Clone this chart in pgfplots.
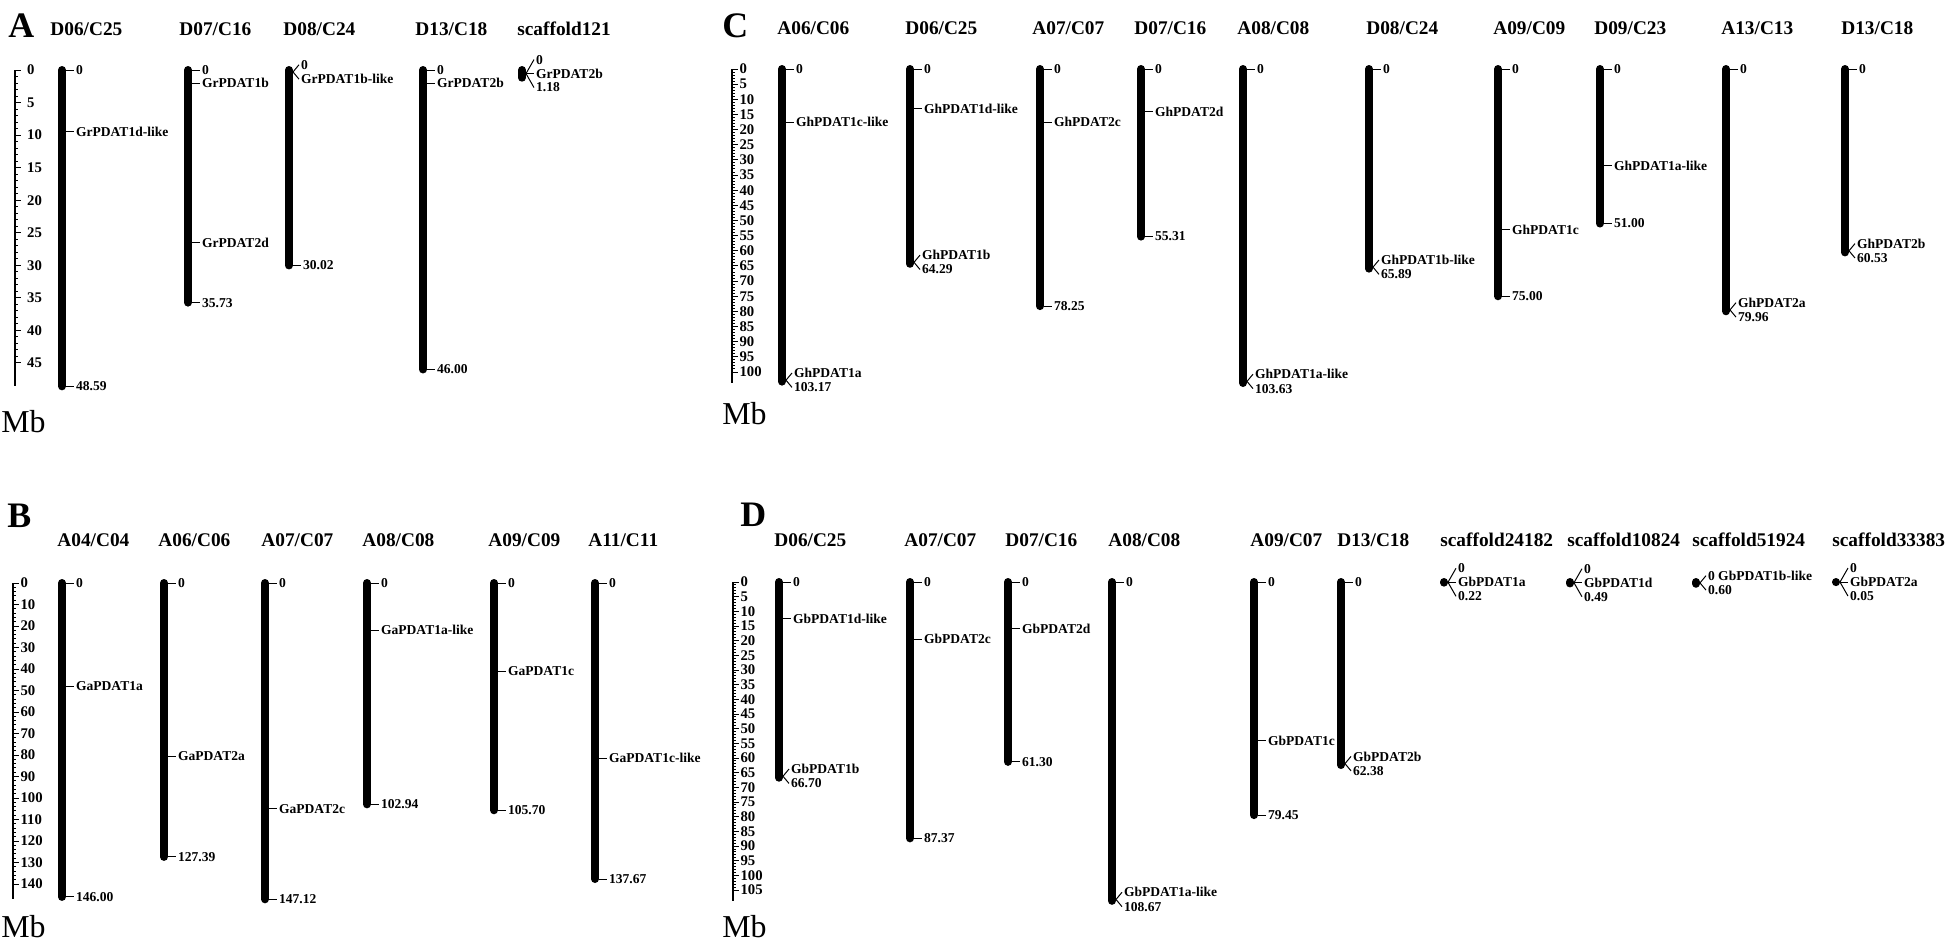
\documentclass[border=0pt]{standalone}
\usepackage{pgfplots}
\pgfplotsset{compat=1.18}
\usepackage{fontspec}
\setmainfont{Liberation Serif}

\newcommand{\lab}{\bfseries\fontsize{6.8}{7}\selectfont}
\newcommand{\ttl}{\bfseries\fontsize{9.7}{11}\selectfont}
\newcommand{\pletter}{\bfseries\fontsize{18}{20}\selectfont}
\newcommand{\mbfont}{\fontsize{16}{18}\selectfont}

% gene tick: x, Mb, text
\newcommand{\gene}[3]{\draw[line width=0.5bp] (axis cs:#1,#2) ++(2bp,0bp) -- ++(4bp,0bp) node[anchor=west,inner sep=0.8bp,font=\lab]{#3};}
% two-way fan: x, Mb, upper text, lower text
\newcommand{\fan}[4]{%
 \draw[line width=0.5bp] (axis cs:#1,#2) ++(2bp,0bp) -- ++(3bp,3.6bp) node[anchor=west,inner sep=0.8bp,font=\lab]{#3};
 \draw[line width=0.5bp] (axis cs:#1,#2) ++(2bp,0bp) -- ++(3bp,-3.6bp) node[anchor=west,inner sep=0.8bp,font=\lab]{#4};}
% three-way fan
\newcommand{\tfan}[5]{%
 \draw[line width=0.5bp] (axis cs:#1,#2) ++(2bp,0bp) -- ++(4bp,7bp) node[anchor=west,inner sep=0.8bp,font=\lab]{#3};
 \draw[line width=0.5bp] (axis cs:#1,#2) ++(2bp,0bp) -- ++(4bp,0bp) node[anchor=west,inner sep=0.8bp,font=\lab]{#4};
 \draw[line width=0.5bp] (axis cs:#1,#2) ++(2bp,0bp) -- ++(4bp,-7bp) node[anchor=west,inner sep=0.8bp,font=\lab]{#5};}

\pgfplotsset{
  ruler/.style={
    axis y line=left, axis x line=none,
    axis line style={-, line width=0.6bp, black},
    y dir=reverse, clip=false,
    tick align=inside, major tick length=2.8bp, minor tick length=1.5bp,
    tick style={line width=0.5bp, black},
    minor y tick num=4,
    /pgf/number format/assume math mode=true,
    yticklabel style={font=\bfseries\fontsize{7.4}{8}\selectfont, anchor=west, xshift=3.2bp, inner sep=0.4bp},
    x=0.5bp, ymin=0, anchor=north west,
  },
  chrom/.style={black, line width=4bp, line cap=round, mark=none},
}

\begin{document}
\begin{tikzpicture}
\begin{scope}[x=0.5bp,y=-0.5bp]
% Panel A texts
\node[anchor=base west,font=\pletter,inner sep=0] at (8,37) {A};
\node[anchor=base west,font=\mbfont,inner sep=0] at (1,433) {Mb};
\node[anchor=base west,font=\ttl,inner sep=0] at (50,35) {D06/C25};
\node[anchor=base west,font=\ttl,inner sep=0] at (179,35) {D07/C16};
\node[anchor=base west,font=\ttl,inner sep=0] at (283,35) {D08/C24};
\node[anchor=base west,font=\ttl,inner sep=0] at (415,35) {D13/C18};
\node[anchor=base west,font=\ttl,inner sep=0] at (517,35) {scaffold121};
% Panel B texts
\node[anchor=base west,font=\pletter,inner sep=0] at (7,528) {B};
\node[anchor=base west,font=\mbfont,inner sep=0] at (1,938) {Mb};
\node[anchor=base west,font=\ttl,inner sep=0] at (57,547) {A04/C04};
\node[anchor=base west,font=\ttl,inner sep=0] at (158,547) {A06/C06};
\node[anchor=base west,font=\ttl,inner sep=0] at (261,547) {A07/C07};
\node[anchor=base west,font=\ttl,inner sep=0] at (362,547) {A08/C08};
\node[anchor=base west,font=\ttl,inner sep=0] at (488,547) {A09/C09};
\node[anchor=base west,font=\ttl,inner sep=0] at (588,547) {A11/C11};
% Panel C texts
\node[anchor=base west,font=\pletter,inner sep=0] at (722,37) {C};
\node[anchor=base west,font=\mbfont,inner sep=0] at (722,425) {Mb};
\node[anchor=base west,font=\ttl,inner sep=0] at (777,34) {A06/C06};
\node[anchor=base west,font=\ttl,inner sep=0] at (905,34) {D06/C25};
\node[anchor=base west,font=\ttl,inner sep=0] at (1032,34) {A07/C07};
\node[anchor=base west,font=\ttl,inner sep=0] at (1134,34) {D07/C16};
\node[anchor=base west,font=\ttl,inner sep=0] at (1237,34) {A08/C08};
\node[anchor=base west,font=\ttl,inner sep=0] at (1366,34) {D08/C24};
\node[anchor=base west,font=\ttl,inner sep=0] at (1493,34) {A09/C09};
\node[anchor=base west,font=\ttl,inner sep=0] at (1594,34) {D09/C23};
\node[anchor=base west,font=\ttl,inner sep=0] at (1721,34) {A13/C13};
\node[anchor=base west,font=\ttl,inner sep=0] at (1841,34) {D13/C18};
% Panel D texts
\node[anchor=base west,font=\pletter,inner sep=0] at (740,527) {D};
\node[anchor=base west,font=\mbfont,inner sep=0] at (722,938) {Mb};
\node[anchor=base west,font=\ttl,inner sep=0] at (774,547) {D06/C25};
\node[anchor=base west,font=\ttl,inner sep=0] at (904,547) {A07/C07};
\node[anchor=base west,font=\ttl,inner sep=0] at (1005,547) {D07/C16};
\node[anchor=base west,font=\ttl,inner sep=0] at (1108,547) {A08/C08};
\node[anchor=base west,font=\ttl,inner sep=0] at (1250,547) {A09/C07};
\node[anchor=base west,font=\ttl,inner sep=0] at (1337,547) {D13/C18};
\node[anchor=base west,font=\ttl,inner sep=0] at (1440,547) {scaffold24182};
\node[anchor=base west,font=\ttl,inner sep=0] at (1567,547) {scaffold10824};
\node[anchor=base west,font=\ttl,inner sep=0] at (1692,547) {scaffold51924};
\node[anchor=base west,font=\ttl,inner sep=0] at (1832,547) {scaffold33383};
\end{scope}

% ---------------- Panel A ----------------
\begin{axis}[ruler, at={(7.5bp,-35bp)}, xmin=15, xmax=640, y=3.255bp, ymax=48.6,
  ytick={0,5,...,45}, yticklabel style={xshift=2.3bp}]
\addplot[chrom] coordinates {(62,0) (62,48.59)};
\addplot[chrom] coordinates {(188,0) (188,35.73)};
\addplot[chrom] coordinates {(289,0) (289,30.02)};
\addplot[chrom] coordinates {(423,0) (423,46.00)};
\addplot[chrom] coordinates {(522,0) (522,1.18)};
\gene{62}{0}{0} \gene{62}{9.5}{GrPDAT1d-like} \gene{62}{48.59}{48.59}
\gene{188}{0}{0} \gene{188}{2.0}{GrPDAT1b} \gene{188}{26.5}{GrPDAT2d} \gene{188}{35.73}{35.73}
\fan{289}{0.3}{0}{GrPDAT1b-like} \gene{289}{30.02}{30.02}
\gene{423}{0}{0} \gene{423}{2.0}{GrPDAT2b} \gene{423}{46.00}{46.00}
\tfan{522}{0.55}{0}{GrPDAT2b}{1.18}
\end{axis}

% ---------------- Panel B ----------------
\begin{axis}[ruler, at={(6.5bp,-291.5bp)}, xmin=13, xmax=700, y=1.075bp, ymax=147,
  ytick={0,10,...,140}]
\addplot[chrom] coordinates {(62,0) (62,146.00)};
\addplot[chrom] coordinates {(164,0) (164,127.39)};
\addplot[chrom] coordinates {(265,0) (265,147.12)};
\addplot[chrom] coordinates {(367,0) (367,102.94)};
\addplot[chrom] coordinates {(494,0) (494,105.70)};
\addplot[chrom] coordinates {(595,0) (595,137.67)};
\gene{62}{0}{0} \gene{62}{48}{GaPDAT1a} \gene{62}{146.00}{146.00}
\gene{164}{0}{0} \gene{164}{80.5}{GaPDAT2a} \gene{164}{127.39}{127.39}
\gene{265}{0}{0} \gene{265}{105}{GaPDAT2c} \gene{265}{147.12}{147.12}
\gene{367}{0}{0} \gene{367}{22}{GaPDAT1a-like} \gene{367}{102.94}{102.94}
\gene{494}{0}{0} \gene{494}{41}{GaPDAT1c} \gene{494}{105.70}{105.70}
\gene{595}{0}{0} \gene{595}{81.5}{GaPDAT1c-like} \gene{595}{137.67}{137.67}
\end{axis}

% ---------------- Panel C ----------------
\begin{axis}[ruler, at={(366bp,-34.5bp)}, xmin=732, xmax=1940, y=1.515bp, ymax=103.6,
  ytick={0,5,...,100}]
\addplot[chrom] coordinates {(782,0) (782,103.17)};
\addplot[chrom] coordinates {(910,0) (910,64.29)};
\addplot[chrom] coordinates {(1040,0) (1040,78.25)};
\addplot[chrom] coordinates {(1141,0) (1141,55.31)};
\addplot[chrom] coordinates {(1243,0) (1243,103.63)};
\addplot[chrom] coordinates {(1369,0) (1369,65.89)};
\addplot[chrom] coordinates {(1498,0) (1498,75.00)};
\addplot[chrom] coordinates {(1600,0) (1600,51.00)};
\addplot[chrom] coordinates {(1726,0) (1726,79.96)};
\addplot[chrom] coordinates {(1845,0) (1845,60.53)};
\gene{782}{0}{0} \gene{782}{17.5}{GhPDAT1c-like} \fan{782}{102.7}{GhPDAT1a}{103.17}
\gene{910}{0}{0} \gene{910}{13}{GhPDAT1d-like} \fan{910}{63.8}{GhPDAT1b}{64.29}
\gene{1040}{0}{0} \gene{1040}{17.5}{GhPDAT2c} \gene{1040}{78.25}{78.25}
\gene{1141}{0}{0} \gene{1141}{14}{GhPDAT2d} \gene{1141}{55.31}{55.31}
\gene{1243}{0}{0} \fan{1243}{103.1}{GhPDAT1a-like}{103.63}
\gene{1369}{0}{0} \fan{1369}{65.4}{GhPDAT1b-like}{65.89}
\gene{1498}{0}{0} \gene{1498}{53}{GhPDAT1c} \gene{1498}{75.00}{75.00}
\gene{1600}{0}{0} \gene{1600}{32}{GhPDAT1a-like} \gene{1600}{51.00}{51.00}
\gene{1726}{0}{0} \fan{1726}{79.5}{GhPDAT2a}{79.96}
\gene{1845}{0}{0} \fan{1845}{60.0}{GhPDAT2b}{60.53}
\end{axis}

% ---------------- Panel D ----------------
\begin{axis}[ruler, at={(366.5bp,-291bp)}, xmin=733, xmax=1940, y=1.467bp, ymax=108.7,
  ytick={0,5,...,105}]
\addplot[chrom] coordinates {(779,0) (779,66.70)};
\addplot[chrom] coordinates {(910,0) (910,87.37)};
\addplot[chrom] coordinates {(1008,0) (1008,61.30)};
\addplot[chrom] coordinates {(1112,0) (1112,108.67)};
\addplot[chrom] coordinates {(1254,0) (1254,79.45)};
\addplot[chrom] coordinates {(1341,0) (1341,62.38)};
\addplot[chrom] coordinates {(1444,0) (1444,0.22)};
\addplot[chrom] coordinates {(1570,0) (1570,0.49)};
\addplot[chrom] coordinates {(1696,0) (1696,0.60)};
\addplot[chrom] coordinates {(1836,0) (1836,0.05)};
\gene{779}{0}{0} \gene{779}{12.5}{GbPDAT1d-like} \fan{779}{66.2}{GbPDAT1b}{66.70}
\gene{910}{0}{0} \gene{910}{19.5}{GbPDAT2c} \gene{910}{87.37}{87.37}
\gene{1008}{0}{0} \gene{1008}{16}{GbPDAT2d} \gene{1008}{61.30}{61.30}
\gene{1112}{0}{0} \fan{1112}{108.2}{GbPDAT1a-like}{108.67}
\gene{1254}{0}{0} \gene{1254}{54}{GbPDAT1c} \gene{1254}{79.45}{79.45}
\gene{1341}{0}{0} \fan{1341}{61.9}{GbPDAT2b}{62.38}
\tfan{1444}{0.1}{0}{GbPDAT1a}{0.22}
\tfan{1570}{0.25}{0}{GbPDAT1d}{0.49}
\fan{1696}{0.3}{0 GbPDAT1b-like}{0.60}
\tfan{1836}{0.03}{0}{GbPDAT2a}{0.05}
\end{axis}
\pgfresetboundingbox
\path (0bp,0bp) rectangle (973bp,-471bp);
\end{tikzpicture}
\end{document}
